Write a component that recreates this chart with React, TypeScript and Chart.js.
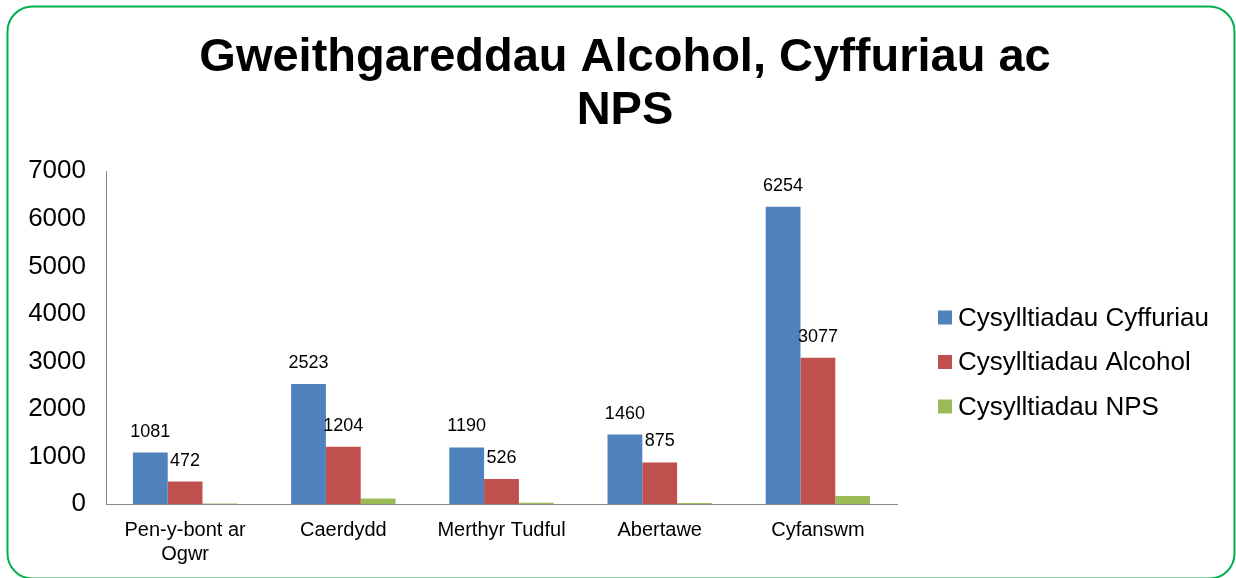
import React, { useEffect, useRef } from 'react';
import { Chart, registerables } from 'chart.js';

Chart.register(...registerables);

const titleLines = ['Gweithgareddau Alcohol, Cyffuriau ac', 'NPS'];
const categories: (string | string[])[] = [['Pen-y-bont ar', 'Ogwr'], 'Caerdydd', 'Merthyr Tudful', 'Abertawe', 'Cyfanswm'];
const seriesNames = ['Cysylltiadau Cyffuriau', 'Cysylltiadau Alcohol', 'Cysylltiadau NPS'];
const cyffuriau = [1081, 2523, 1190, 1460, 6254];
const alcohol = [472, 1204, 526, 875, 3077];
const nps = [8, 115, 25, 20, 168];
const yTicks = [0, 1000, 2000, 3000, 4000, 5000, 6000, 7000];
const seriesColors = ['#4F81BD', '#C0504D', '#9BBB59'];
const seriesLabelled = [true, true, false];

const FONT = '"Liberation Sans", Arial, Helvetica, sans-serif';

const borderPlugin = {
  id: 'outerBorder',
  beforeDraw(chart: any) {
    const ctx = chart.ctx;
    ctx.save();
    ctx.fillStyle = '#ffffff';
    ctx.fillRect(0, 0, chart.width, chart.height);
    ctx.strokeStyle = '#00B050';
    ctx.lineWidth = 2;
    ctx.beginPath();
    (ctx as any).roundRect(7.5, 6.5, 1227, 572, 25);
    ctx.stroke();
    ctx.restore();
  },
};

const dataLabelPlugin = {
  id: 'dataLabels',
  afterDatasetsDraw(chart: any) {
    const ctx = chart.ctx;
    ctx.save();
    ctx.fillStyle = '#000';
    ctx.font = `18px ${FONT}`;
    ctx.textAlign = 'center';
    ctx.textBaseline = 'middle';
    chart.data.datasets.forEach((ds: any, di: number) => {
      if (!seriesLabelled[di]) return;
      const meta = chart.getDatasetMeta(di);
      meta.data.forEach((el: any, i: number) => {
        ctx.fillText(String(ds.data[i]), el.x, el.y - 21);
      });
    });
    ctx.restore();
  },
};

const legendPlugin = {
  id: 'customLegend',
  afterDraw(chart: any) {
    const ctx = chart.ctx;
    const x0 = chart.chartArea.right + 41;
    ctx.save();
    ctx.font = `26px ${FONT}`;
    ctx.textBaseline = 'middle';
    ctx.textAlign = 'left';
    seriesNames.forEach((name, i) => {
      const y = 317.5 + i * 44.5;
      ctx.fillStyle = seriesColors[i];
      ctx.fillRect(x0, y - 7, 14, 14);
      ctx.fillStyle = '#000';
      ctx.fillText(name, x0 + 20, y + 1);
    });
    ctx.restore();
  },
};

export default function App() {
  const ref = useRef<HTMLCanvasElement>(null);
  useEffect(() => {
    if (!ref.current) return;
    Chart.defaults.font.family = FONT;
    const values = [cyffuriau, alcohol, nps];
    const chart = new Chart(ref.current, {
      type: 'bar',
      data: {
        labels: categories as any,
        datasets: seriesNames.map((name, i) => ({
          label: name,
          data: values[i],
          backgroundColor: seriesColors[i],
          borderWidth: 0,
          categoryPercentage: 0.66,
          barPercentage: 1.0,
        })),
      },
      options: {
        responsive: false,
        animation: false,
        layout: { padding: { left: 14, right: 0, top: 0, bottom: 12 } },
        plugins: {
          legend: { display: false },
          tooltip: { enabled: false },
          title: {
            display: true,
            text: titleLines,
            color: '#000',
            font: { size: 47, weight: 'bold', lineHeight: 1.12, family: FONT },
            padding: { top: 32, bottom: 34 },
          },
        },
        scales: {
          x: {
            afterFit: (s: any) => {
              s.height = 62;
            },
            grid: { display: false, drawTicks: false },
            border: { display: true, color: '#888888', width: 1 },
            ticks: {
              color: '#000',
              font: { size: 20, family: FONT, lineHeight: 1.2 },
              padding: 14,
              maxRotation: 0,
              autoSkip: false,
            },
          },
          y: {
            min: 0,
            max: 7000,
            afterBuildTicks: (s: any) => {
              s.ticks = yTicks.map((v) => ({ value: v }));
            },
            afterFit: (s: any) => {
              s.width = 92;
            },
            grid: { display: false, drawTicks: false },
            border: { display: true, color: '#888888', width: 1 },
            ticks: {
              color: '#000',
              font: { size: 26, family: FONT },
              padding: 20,
              callback: (v: any) => String(v),
            },
          },
          spacer: {
            type: 'linear',
            position: 'right',
            display: true,
            grid: { display: false, drawTicks: false },
            border: { display: false },
            ticks: { display: false },
            afterFit: (s: any) => {
              s.width = 339;
            },
          },
        },
      } as any,
      plugins: [borderPlugin, dataLabelPlugin, legendPlugin],
    });
    return () => chart.destroy();
  }, []);
  return (
    <div style={{ position: 'absolute', left: 0, top: 0, width: 1236, height: 578 }}>
      <canvas ref={ref} width={1236} height={578} style={{ display: 'block' }} />
    </div>
  );
}
